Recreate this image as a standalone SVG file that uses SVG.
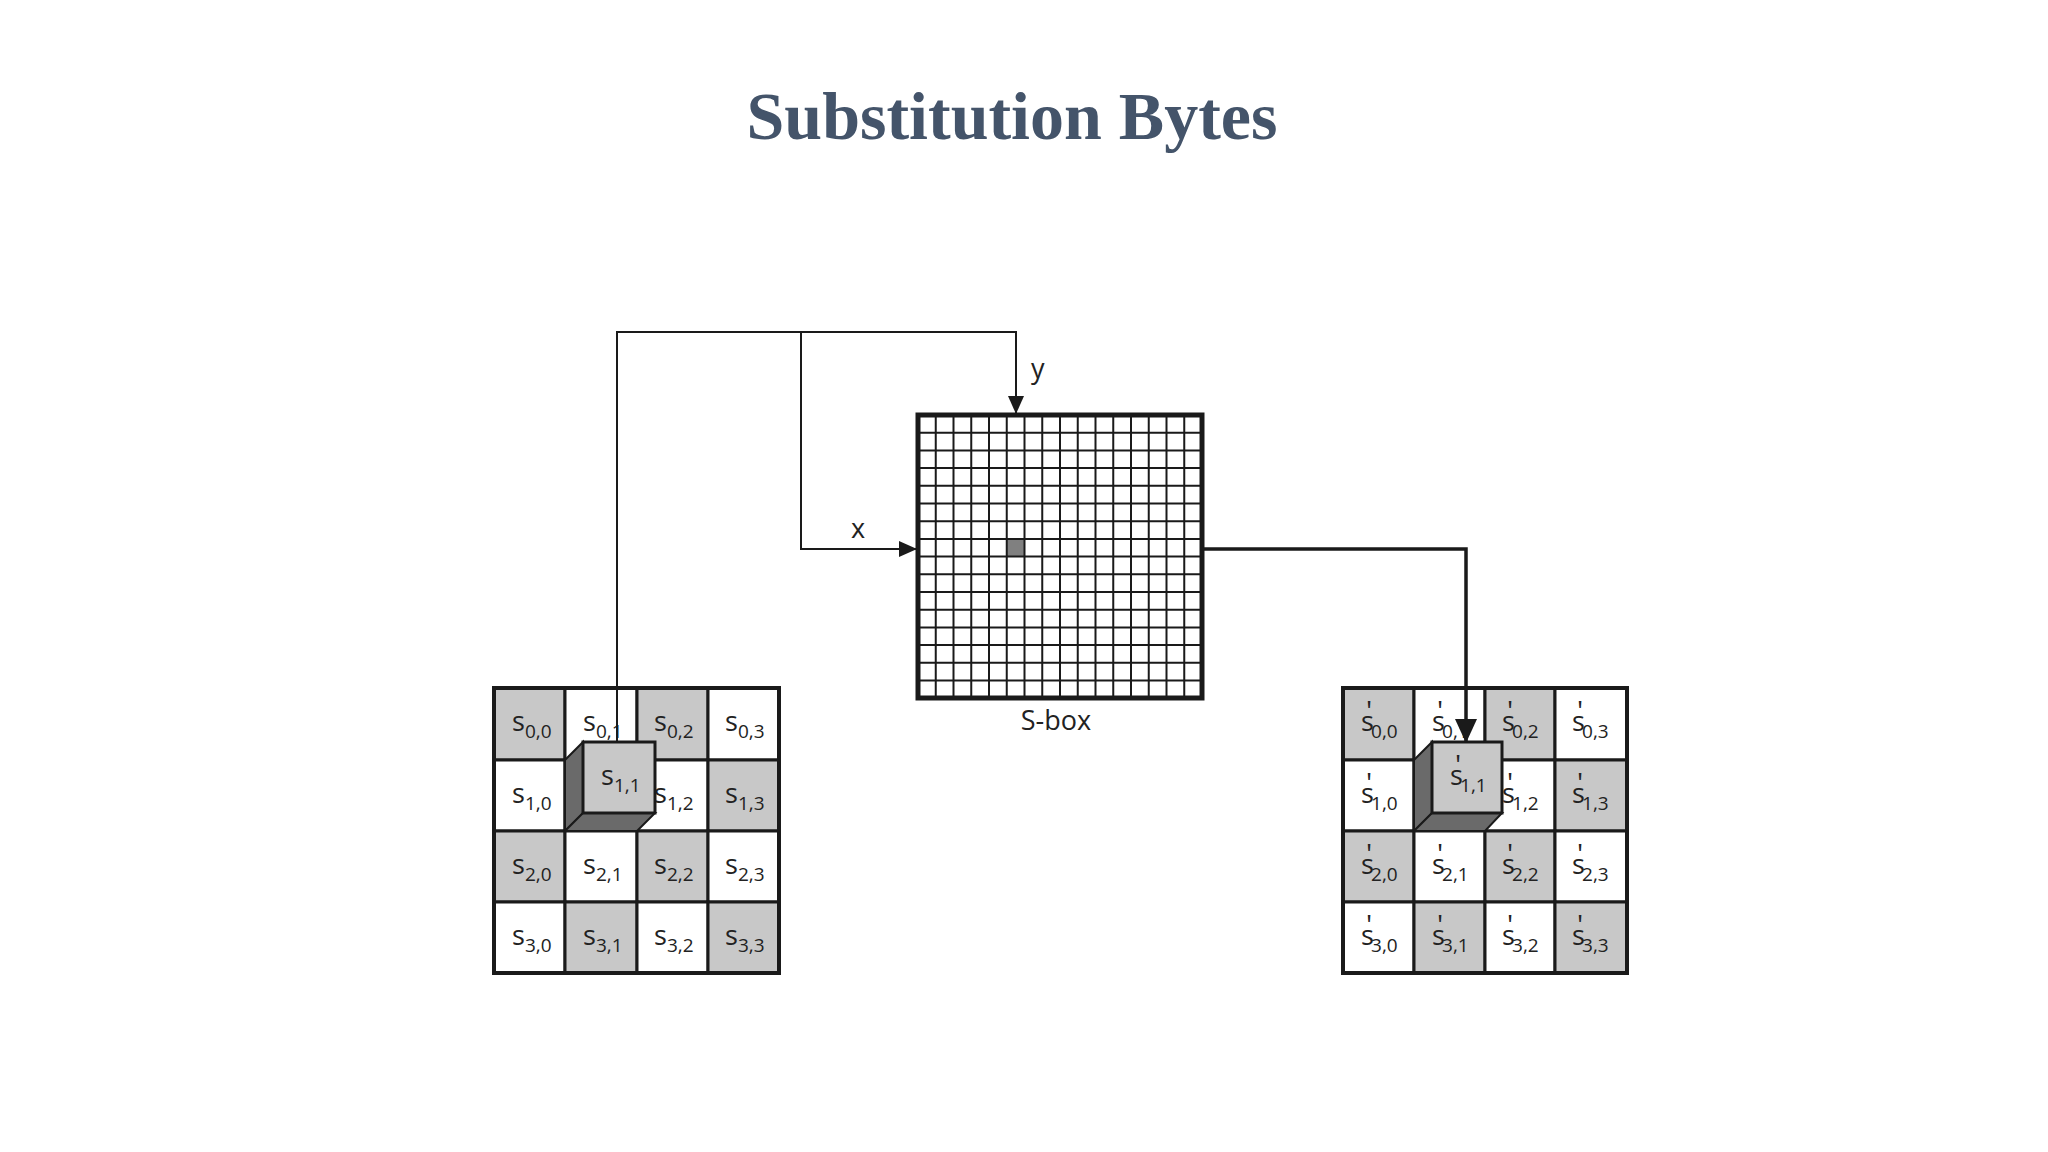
<svg xmlns="http://www.w3.org/2000/svg" width="2048" height="1152" viewBox="0 0 2048 1152">
<style>
.t{font-family:"Open Sans","DejaVu Sans",sans-serif;font-size:27px;fill:#222}
.sub{font-size:19px}
.pr{font-size:28px}
.g{fill:#c8c8c8;stroke:#1a1a1a;stroke-width:3}
.w{fill:#fff;stroke:#1a1a1a;stroke-width:3}
.ln{fill:none;stroke:#1a1a1a;stroke-width:2}
.lt{fill:none;stroke:#1a1a1a;stroke-width:3.5}
.sh{fill:#6a6a6a;stroke:#1a1a1a;stroke-width:2}
</style>
<defs>
<marker id="ah2" markerWidth="24" markerHeight="22" refX="23" refY="11" orient="auto" markerUnits="userSpaceOnUse" viewBox="0 0 24 22"><path d="M0,0 L24,11 L0,22 z" fill="#1a1a1a"/></marker>
<marker id="ah1" markerWidth="18" markerHeight="16" refX="17" refY="8" orient="auto" markerUnits="userSpaceOnUse" viewBox="0 0 18 16"><path d="M0,0 L18,8 L0,16 z" fill="#1a1a1a"/></marker>
</defs>
<text x="1012" y="139" text-anchor="middle" font-family="'Liberation Serif',serif" font-weight="bold" font-size="68" fill="#44546a">Substitution Bytes</text>

<g id="state">
<rect class="g" x="494" y="688" width="71" height="72"/><rect class="w" x="565" y="688" width="72" height="72"/><rect class="g" x="637" y="688" width="71" height="72"/><rect class="w" x="708" y="688" width="71" height="72"/>
<rect class="w" x="494" y="760" width="71" height="71"/><rect class="g" x="565" y="760" width="72" height="71"/><rect class="w" x="637" y="760" width="71" height="71"/><rect class="g" x="708" y="760" width="71" height="71"/>
<rect class="g" x="494" y="831" width="71" height="71"/><rect class="w" x="565" y="831" width="72" height="71"/><rect class="g" x="637" y="831" width="71" height="71"/><rect class="w" x="708" y="831" width="71" height="71"/>
<rect class="w" x="494" y="902" width="71" height="71"/><rect class="g" x="565" y="902" width="72" height="71"/><rect class="w" x="637" y="902" width="71" height="71"/><rect class="g" x="708" y="902" width="71" height="71"/>
<rect x="494" y="688" width="285" height="285" fill="none" stroke="#1a1a1a" stroke-width="4"/>
<text class="t" x="512" y="731">s<tspan class="sub" dy="7">0,0</tspan></text>
<text class="t" x="583" y="731">s<tspan class="sub" dy="7">0,1</tspan></text>
<text class="t" x="654" y="731">s<tspan class="sub" dy="7">0,2</tspan></text>
<text class="t" x="725" y="731">s<tspan class="sub" dy="7">0,3</tspan></text>
<text class="t" x="512" y="803">s<tspan class="sub" dy="7">1,0</tspan></text>
<text class="t" x="654" y="803">s<tspan class="sub" dy="7">1,2</tspan></text>
<text class="t" x="725" y="803">s<tspan class="sub" dy="7">1,3</tspan></text>
<text class="t" x="512" y="874">s<tspan class="sub" dy="7">2,0</tspan></text>
<text class="t" x="583" y="874">s<tspan class="sub" dy="7">2,1</tspan></text>
<text class="t" x="654" y="874">s<tspan class="sub" dy="7">2,2</tspan></text>
<text class="t" x="725" y="874">s<tspan class="sub" dy="7">2,3</tspan></text>
<text class="t" x="512" y="945">s<tspan class="sub" dy="7">3,0</tspan></text>
<text class="t" x="583" y="945">s<tspan class="sub" dy="7">3,1</tspan></text>
<text class="t" x="654" y="945">s<tspan class="sub" dy="7">3,2</tspan></text>
<text class="t" x="725" y="945">s<tspan class="sub" dy="7">3,3</tspan></text>
<polygon class="sh" points="565,760 583,742 583,813 565,831"/>
<polygon class="sh" points="565,831 583,813 655,813 637,831"/>
<rect class="g" x="583" y="742" width="72" height="71" stroke-width="4"/>
<text class="t" x="601" y="785">s<tspan class="sub" dy="7">1,1</tspan></text>
</g>

<g id="sbox">
<rect x="918" y="415" width="284" height="283" fill="#fff"/>
<rect x="1007" y="539" width="18" height="18" fill="#808080"/>
<path class="ln" d="M935.75,415V698M953.5,415V698M971.25,415V698M989,415V698M1006.75,415V698M1024.5,415V698M1042.25,415V698M1060,415V698M1077.75,415V698M1095.5,415V698M1113.25,415V698M1131,415V698M1148.75,415V698M1166.5,415V698M1184.25,415V698
M918,432.7H1202M918,450.4H1202M918,468.1H1202M918,485.8H1202M918,503.5H1202M918,521.2H1202M918,538.9H1202M918,556.6H1202M918,574.3H1202M918,592H1202M918,609.7H1202M918,627.4H1202M918,645.1H1202M918,662.8H1202M918,680.5H1202" stroke-width="2.5"/>
<rect x="918" y="415" width="284" height="283" fill="none" stroke="#1a1a1a" stroke-width="5"/>
<text class="t" x="1056" y="730" text-anchor="middle" font-size="26">S-box</text>
</g>

<g id="result">
<rect class="g" x="1343" y="688" width="71" height="72"/><rect class="w" x="1414" y="688" width="71" height="72"/><rect class="g" x="1485" y="688" width="70" height="72"/><rect class="w" x="1555" y="688" width="72" height="72"/>
<rect class="w" x="1343" y="760" width="71" height="71"/><rect class="g" x="1414" y="760" width="71" height="71"/><rect class="w" x="1485" y="760" width="70" height="71"/><rect class="g" x="1555" y="760" width="72" height="71"/>
<rect class="g" x="1343" y="831" width="71" height="71"/><rect class="w" x="1414" y="831" width="71" height="71"/><rect class="g" x="1485" y="831" width="70" height="71"/><rect class="w" x="1555" y="831" width="72" height="71"/>
<rect class="w" x="1343" y="902" width="71" height="71"/><rect class="g" x="1414" y="902" width="71" height="71"/><rect class="w" x="1485" y="902" width="70" height="71"/><rect class="g" x="1555" y="902" width="72" height="71"/>
<rect x="1343" y="688" width="284" height="285" fill="none" stroke="#1a1a1a" stroke-width="4"/>
<text class="t" x="1361" y="731">s<tspan class="pr" dx="-8" dy="-10">'</tspan><tspan class="sub" dx="-1" dy="17">0,0</tspan></text>
<text class="t" x="1432" y="731">s<tspan class="pr" dx="-8" dy="-10">'</tspan><tspan class="sub" dx="-1" dy="17">0,1</tspan></text>
<text class="t" x="1502" y="731">s<tspan class="pr" dx="-8" dy="-10">'</tspan><tspan class="sub" dx="-1" dy="17">0,2</tspan></text>
<text class="t" x="1572" y="731">s<tspan class="pr" dx="-8" dy="-10">'</tspan><tspan class="sub" dx="-1" dy="17">0,3</tspan></text>
<text class="t" x="1361" y="803">s<tspan class="pr" dx="-8" dy="-10">'</tspan><tspan class="sub" dx="-1" dy="17">1,0</tspan></text>
<text class="t" x="1502" y="803">s<tspan class="pr" dx="-8" dy="-10">'</tspan><tspan class="sub" dx="-1" dy="17">1,2</tspan></text>
<text class="t" x="1572" y="803">s<tspan class="pr" dx="-8" dy="-10">'</tspan><tspan class="sub" dx="-1" dy="17">1,3</tspan></text>
<text class="t" x="1361" y="874">s<tspan class="pr" dx="-8" dy="-10">'</tspan><tspan class="sub" dx="-1" dy="17">2,0</tspan></text>
<text class="t" x="1432" y="874">s<tspan class="pr" dx="-8" dy="-10">'</tspan><tspan class="sub" dx="-1" dy="17">2,1</tspan></text>
<text class="t" x="1502" y="874">s<tspan class="pr" dx="-8" dy="-10">'</tspan><tspan class="sub" dx="-1" dy="17">2,2</tspan></text>
<text class="t" x="1572" y="874">s<tspan class="pr" dx="-8" dy="-10">'</tspan><tspan class="sub" dx="-1" dy="17">2,3</tspan></text>
<text class="t" x="1361" y="945">s<tspan class="pr" dx="-8" dy="-10">'</tspan><tspan class="sub" dx="-1" dy="17">3,0</tspan></text>
<text class="t" x="1432" y="945">s<tspan class="pr" dx="-8" dy="-10">'</tspan><tspan class="sub" dx="-1" dy="17">3,1</tspan></text>
<text class="t" x="1502" y="945">s<tspan class="pr" dx="-8" dy="-10">'</tspan><tspan class="sub" dx="-1" dy="17">3,2</tspan></text>
<text class="t" x="1572" y="945">s<tspan class="pr" dx="-8" dy="-10">'</tspan><tspan class="sub" dx="-1" dy="17">3,3</tspan></text>
<polygon class="sh" points="1414,760 1432,742 1432,813 1414,831"/>
<polygon class="sh" points="1414,831 1432,813 1502,813 1485,831"/>
<rect class="g" x="1432" y="742" width="70" height="71" stroke-width="4"/>
<text class="t" x="1450" y="785">s<tspan class="pr" dx="-8" dy="-10">'</tspan><tspan class="sub" dx="-1" dy="17">1,1</tspan></text>
</g>

<g id="connectors">
<path class="ln" d="M617,742V332H1016V413" marker-end="url(#ah1)"/>
<path class="ln" d="M801,332V549H916" marker-end="url(#ah1)"/>
<path class="lt" d="M1202,549H1466V742" marker-end="url(#ah2)"/>
<text class="t" x="1031" y="378" font-size="26">y</text>
<text class="t" x="851" y="538" font-size="26">x</text>
</g>
</svg>
